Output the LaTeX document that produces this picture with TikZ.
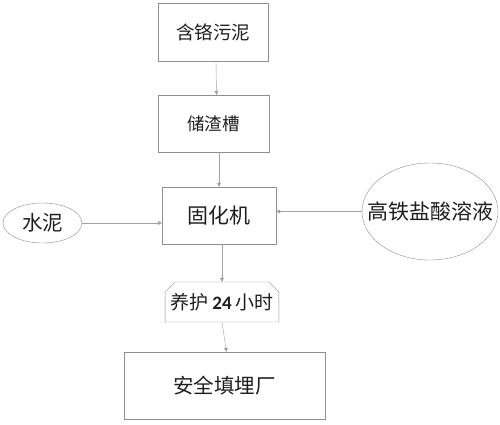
\documentclass[tikz,border=0pt]{standalone}
\usepackage{fontspec}
\usepackage{xcolor}
\usepackage{tikz}
\usetikzlibrary{arrows.meta, shapes.geometric, shapes.misc, positioning}

\newfontfamily\cjk{Noto Sans CJK SC}
\newfontfamily\numfont{Carlito}
\definecolor{edgegray}{HTML}{8E8E8E}
\definecolor{arrgray}{HTML}{A2A2A2}
\definecolor{txtgray}{HTML}{1E1E1E}

\begin{document}
\begin{tikzpicture}[
    x=1pt, y=-1pt,
    box/.style={draw=edgegray, rectangle, inner sep=0pt, text=txtgray, font=\cjk},
    oval/.style={draw=edgegray, ellipse, inner sep=0pt, text=txtgray, font=\cjk},
    arr/.style={arrgray, -{Triangle[length=4pt, width=4pt]}}
  ]
  \useasboundingbox (0,0) rectangle (500,424);
  \node[box, minimum width=110pt, minimum height=58pt] (sludge) at (213,32)
    {\fontsize{18.5}{20}\selectfont 含铬污泥};
  \node[box, minimum width=111pt, minimum height=57pt] (tank) at (213.5,123.5)
    {\fontsize{17.5}{20}\selectfont 储渣槽};
  \node[box, minimum width=114pt, minimum height=57pt] (mixer) at (219,215.5)
    {\fontsize{21}{22}\selectfont 固化机};
  \node[box, chamfered rectangle, chamfered rectangle corners={north west, north east},
    chamfered rectangle xsep=5pt, chamfered rectangle ysep=5pt,
    minimum width=112pt, minimum height=40pt] (cure) at (222,302)
    {\fontsize{19}{20}\selectfont 养护 {\numfont\bfseries 24} 小时};
  \node[box, minimum width=201pt, minimum height=67pt] (landfill) at (224.5,385.5)
    {\fontsize{20.5}{22}\selectfont 安全填埋厂};
  \node[oval, minimum width=79pt, minimum height=40pt] (cement) at (42.5,223)
    {\fontsize{20.5}{22}\selectfont 水泥};
  \node[oval, minimum width=136pt, minimum height=97pt] (acid) at (430,211.5)
    {\makebox[0pt]{\fontsize{21}{22}\selectfont 高铁盐酸溶液}};

  % main line
  \draw[arr] ([xshift=3pt]sludge.south) -- ([xshift=3pt]tank.north);
  \draw[arr] (tank.south -| mixer.north) -- (mixer.north);
  \draw[arr] (mixer.south -| cure.north) -- (cure.north);
  \draw[arr] (cure.south) -- ([xshift=2pt]landfill.north);
  % side inputs
  \draw[arr] (cement.east) -- (cement.east -| mixer.west);
  \draw[arr] (acid.west) -- (acid.west -| mixer.east);
\end{tikzpicture}
\end{document}
